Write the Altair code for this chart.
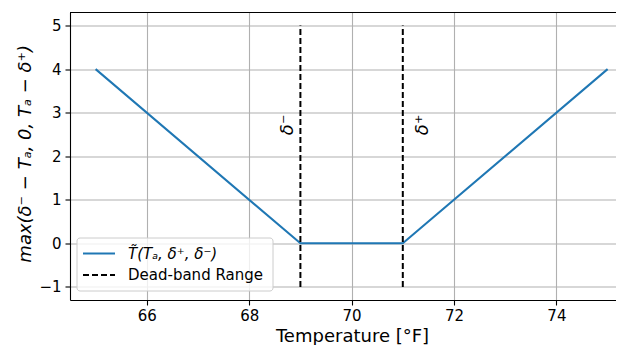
import altair as alt
import pandas as pd

# ---- data ----
temps = [65, 69, 71, 75]
penalty = [4, 0, 0, 4]
deadband_x = [69, 71]
deadband_lo = [-1, -1]
deadband_hi = [5, 5]
annot_text = ["δ⁻", "δ⁺"]
annot_x = [68.76, 71.39]
annot_y = [2.72, 2.72]
legend_labels = ["T̃(Tₐ, δ⁺, δ⁻)", "Dead-band Range"]
x_ticks = [66, 68, 70, 72, 74]
y_ticks = [-1, 0, 1, 2, 3, 4, 5]

BLUE = "#1f77b4"
FONT = "DejaVu Sans"
W, H = 546, 287.5

line_df = pd.DataFrame({"t": temps, "v": penalty})
db_df = pd.DataFrame({"t": deadband_x, "lo": deadband_lo, "hi": deadband_hi})
an_df = pd.DataFrame({"t": annot_x, "v": annot_y, "txt": annot_text})
one = pd.DataFrame({"k": [0]})

xscale = alt.Scale(domain=[64.5, 64.5 + W / 51.2], nice=False, zero=False)
yscale = alt.Scale(domain=[-1.3, 5.3], nice=False, zero=False)
xaxis = alt.Axis(values=x_ticks, title="Temperature [°F]", format="d",
                 titleX=282, titleY=41.5, titleBaseline="alphabetic",
                 titleAnchor="start", titleAlign="center", labelPadding=3.5)
yaxis = alt.Axis(values=y_ticks, format="d",
                 title="max(δ⁻ − Tₐ, 0, Tₐ − δ⁺)", titleFontStyle="italic",
                 titleX=-45, titleY=H / 2 - 3, titleAngle=270, titleBaseline="middle",
                 titleAlign="center", titleAnchor="start", labelPadding=4)

def X(field):
    return alt.X(field, type="quantitative", scale=xscale, axis=xaxis)

def Y(field):
    return alt.Y(field, type="quantitative", scale=yscale, axis=yaxis)

line = alt.Chart(line_df).mark_line(color=BLUE, strokeWidth=2).encode(
    x=X("t"), y=Y("v"))

deadband = alt.Chart(db_df).mark_rule(color="black", strokeWidth=2, strokeDash=[6, 3]).encode(
    x=X("t"), y=Y("lo"), y2="hi")

annots = alt.Chart(an_df).mark_text(angle=270, fontSize=18, font=FONT, fontStyle="italic",
                                    align="center", baseline="middle", color="black").encode(
    x=X("t"), y=Y("v"), text="txt:N")

top_spine = alt.Chart(one).mark_rule(color="black", strokeWidth=1.1).encode(
    x=alt.value(0), x2=alt.value(W), y=alt.value(0))

leg_box = alt.Chart(one).mark_rect(fill="white", fillOpacity=0.8, stroke="#cccccc",
                                   strokeWidth=1, cornerRadius=3).encode(
    x=alt.value(7), x2=alt.value(203), y=alt.value(225.5), y2=alt.value(278.5))
leg_l1 = alt.Chart(one).mark_rule(color=BLUE, strokeWidth=2).encode(
    x=alt.value(13), x2=alt.value(45), y=alt.value(241))
leg_l2 = alt.Chart(one).mark_rule(color="black", strokeWidth=2, strokeDash=[6, 3]).encode(
    x=alt.value(13), x2=alt.value(45), y=alt.value(262.5))
leg_t1 = alt.Chart(one).mark_text(align="left", baseline="middle", fontSize=15, font=FONT,
                                  fontStyle="italic", color="black").encode(
    x=alt.value(58), y=alt.value(241), text=alt.value(legend_labels[0]))
leg_t2 = alt.Chart(one).mark_text(align="left", baseline="middle", fontSize=15, font=FONT,
                                  color="black").encode(
    x=alt.value(58), y=alt.value(262.5), text=alt.value(legend_labels[1]))

chart = alt.layer(line, deadband, annots, top_spine, leg_box, leg_l1, leg_l2, leg_t1, leg_t2).properties(
    width=W, height=H,
    autosize=alt.AutoSizeParams(type="none"),
    padding={"left": 62, "top": 4.5, "right": 0, "bottom": 45},
).configure_view(stroke=None).configure_axis(
    domainColor="black", domainWidth=1.1, tickColor="black", tickSize=5, tickWidth=1.1,
    gridColor="#b0b0b0", gridWidth=1.1, labelFont=FONT, labelFontSize=15, labelColor="black",
    titleFont=FONT, titleFontSize=18, titleFontWeight="normal", titleColor="black",
)

chart.save("out.html", embed_options={"renderer": "svg", "actions": False})
